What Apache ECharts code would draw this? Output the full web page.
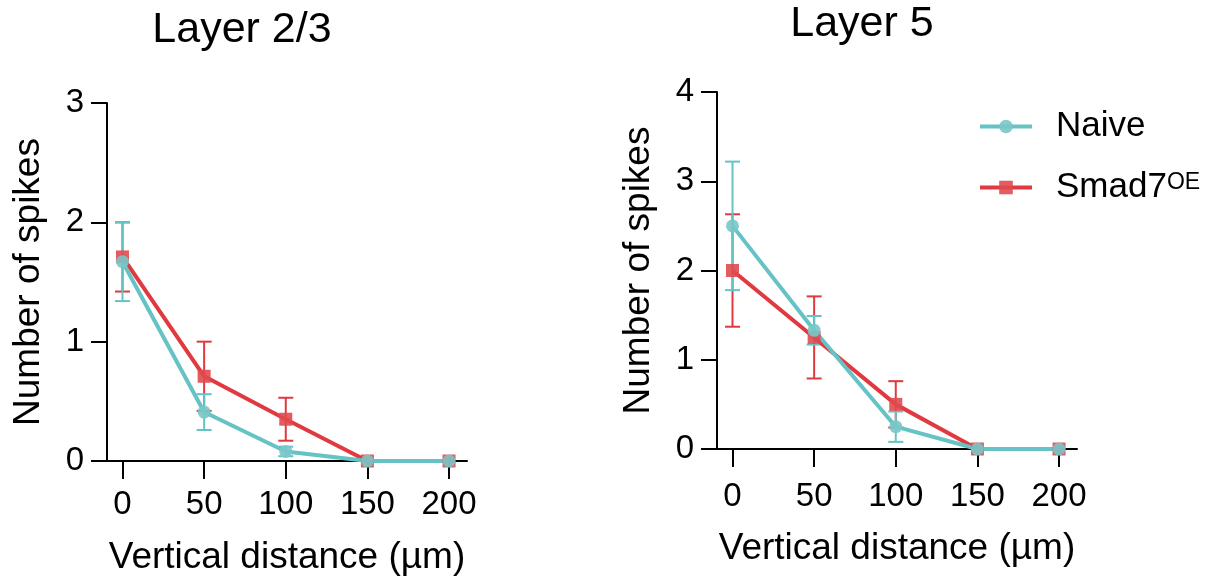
<!DOCTYPE html>
<html>
<head>
<meta charset="utf-8">
<script src="https://cdn.jsdelivr.net/npm/echarts@6/dist/echarts.min.js"></script>
<style>
html,body{margin:0;padding:0;background:#fff;}
#c{width:1219px;height:581px;}
</style>
</head>
<body>
<div id="c"></div>
<script>
const distances = [0, 50, 100, 150, 200];
const yTicksL23 = [0, 1, 2, 3];
const yTicksL5 = [0, 1, 2, 3, 4];

const naiveL23 = [1.67, 0.41, 0.08, 0, 0];
const naiveL23Err = [0.33, 0.15, 0.04, 0, 0];
const smadL23 = [1.71, 0.71, 0.35, 0, 0];
const smadL23Err = [0.29, 0.29, 0.18, 0, 0];

const naiveL5 = [2.5, 1.33, 0.25, 0, 0];
const naiveL5Err = [0.72, 0.16, 0.17, 0, 0];
const smadL5 = [2.0, 1.25, 0.5, 0, 0];
const smadL5Err = [0.63, 0.46, 0.26, 0, 0];

const TEAL = '#66C3C5';
const TEAL_M = '#79C6C8';
const RED = '#E0393F';
const RED_M = '#E04A4F';
const FONT = '"Liberation Sans", Arial, Helvetica, sans-serif';

function pts(vals) { return distances.map((d, i) => [d, vals[i]]); }
function errs(vals, e) { return distances.map((d, i) => [d, vals[i] - e[i], vals[i] + e[i]]); }

function errSeries(name, idx, vals, e, color) {
  return {
    name: name, type: 'custom', xAxisIndex: idx, yAxisIndex: idx,
    data: errs(vals, e), encode: { x: 0, y: [1, 2] }, silent: true,
    renderItem: function (params, api) {
      const x = api.value(0), lo = api.value(1), hi = api.value(2);
      if (hi - lo <= 0) return null;
      const t = api.coord([x, hi]), b = api.coord([x, lo]);
      const hw = 7.5;
      const st = { stroke: color, lineWidth: 2, fill: null };
      return { type: 'group', children: [
        { type: 'line', shape: { x1: t[0], y1: t[1], x2: b[0], y2: b[1] }, style: st },
        { type: 'line', shape: { x1: t[0] - hw, y1: t[1], x2: t[0] + hw, y2: t[1] }, style: st },
        { type: 'line', shape: { x1: b[0] - hw, y1: b[1], x2: b[0] + hw, y2: b[1] }, style: st }
      ]};
    }
  };
}
function lineSeries(name, idx, vals, color, mcolor, symbol) {
  return {
    name: name, type: 'line', xAxisIndex: idx, yAxisIndex: idx,
    data: pts(vals), symbol: symbol, symbolSize: 13, showSymbol: true,
    lineStyle: { color: color, width: 4 },
    itemStyle: { color: mcolor, opacity: 0.9 },
    emphasis: { disabled: true }, animation: false
  };
}

function xAxis(idx, margin, nameGap) {
  return {
    type: 'value', gridIndex: idx, min: -9.5, max: 211,
    name: 'Vertical distance (µm)', nameLocation: 'middle', nameGap: nameGap,
    nameTextStyle: { fontSize: 37, color: '#000', fontFamily: FONT },
    axisLine: { show: true, onZero: false, lineStyle: { color: '#000', width: 2 } },
    axisTick: { show: true, length: 18, lineStyle: { color: '#000', width: 2 }, customValues: distances },
    axisLabel: { fontSize: 33, color: '#000', fontFamily: FONT, margin: margin, customValues: distances },
    splitLine: { show: false }
  };
}
function yAxis(idx, ticks) {
  return {
    type: 'value', gridIndex: idx, min: ticks[0], max: ticks[ticks.length - 1], interval: 1,
    name: 'Number of spikes', nameLocation: 'middle', nameGap: 60, nameRotate: 90,
    nameTextStyle: { fontSize: 37, color: '#000', fontFamily: FONT },
    axisLine: { show: true, onZero: false, lineStyle: { color: '#000', width: 2 } },
    axisTick: { show: true, length: 16, lineStyle: { color: '#000', width: 2 } },
    axisLabel: { fontSize: 33, color: '#000', fontFamily: FONT, margin: 23 },
    splitLine: { show: false }
  };
}

const chart = echarts.init(document.getElementById('c'), null, { renderer: 'canvas' });
chart.setOption({
  animation: false,
  backgroundColor: '#fff',
  title: [
    { text: 'Layer 2/3', left: 242, top: 9, textAlign: 'center', padding: 0,
      textStyle: { fontSize: 43, fontWeight: 'normal', color: '#000', fontFamily: FONT } },
    { text: 'Layer 5', left: 862, top: 3, textAlign: 'center', padding: 0,
      textStyle: { fontSize: 43, fontWeight: 'normal', color: '#000', fontFamily: FONT } }
  ],
  grid: [
    { left: 107, top: 103, width: 360, height: 358 },
    { left: 717, top: 92, width: 360, height: 357 }
  ],
  xAxis: [xAxis(0, 27, 78), xAxis(1, 31, 81)],
  yAxis: [yAxis(0, yTicksL23), yAxis(1, yTicksL5)],
  legend: {
    data: ['Naive', 'Smad7'], orient: 'vertical', left: 973, top: 104,
    itemWidth: 52, itemHeight: 17, itemGap: 26, selectedMode: false,
    lineStyle: { width: 4 },
    formatter: function (n) { return n === 'Smad7' ? '{m|Smad7}{s|OE}' : '{m|Naive}'; },
    textStyle: {
      padding: [0, 0, 0, 19], color: '#000', fontFamily: FONT,
      rich: {
        m: { fontSize: 35, color: '#000', fontFamily: FONT },
        s: { fontSize: 23, color: '#000', fontFamily: FONT, verticalAlign: 'middle', padding: [0, 0, 10, 0] }
      }
    }
  },
  series: [
    errSeries('smadErrL23', 0, smadL23, smadL23Err, RED),
    lineSeries('Smad7', 0, smadL23, RED, RED_M, 'rect'),
    errSeries('naiveErrL23', 0, naiveL23, naiveL23Err, TEAL),
    lineSeries('Naive', 0, naiveL23, TEAL, TEAL_M, 'circle'),
    errSeries('smadErrL5', 1, smadL5, smadL5Err, RED),
    lineSeries('Smad7', 1, smadL5, RED, RED_M, 'rect'),
    errSeries('naiveErrL5', 1, naiveL5, naiveL5Err, TEAL),
    lineSeries('Naive', 1, naiveL5, TEAL, TEAL_M, 'circle')
  ]
});
</script>
</body>
</html>
